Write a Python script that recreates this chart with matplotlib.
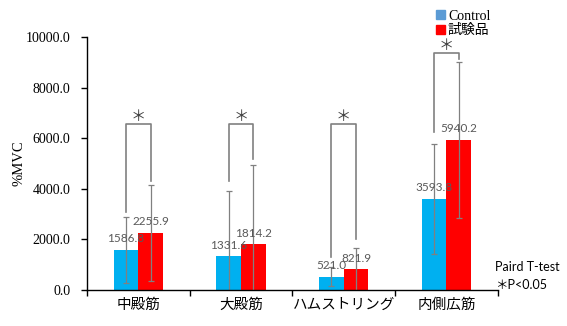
import matplotlib
matplotlib.use('Agg')
import matplotlib.pyplot as plt
from matplotlib.patches import Patch
import numpy as np

# Data
muscles = ['中殿筋', '大殿筋', 'ハムストリング', '内側広筋']
control_mean = [1586.8, 1331.6, 521.0, 3593.8]
test_mean = [2255.9, 1814.2, 821.9, 5940.2]
control_sd = [1300, 2600, 370, 2165]
test_sd = [1900, 3130, 850, 3090]

# significance brackets: top level, left leg bottom, right leg bottom
bracket_top = [6560, 6560, 6560, 9380]
bracket_left = [3100, 4310, 1320, 6260]
bracket_right = [4310, 5180, 2000, 9150]

blue = '#00B0F0'
red = '#FF0000'
gray = '#808080'
label_gray = '#595959'

fig = plt.figure(figsize=(5.67, 3.26), dpi=100)
ax = fig.add_axes([0.1534, 0.1104, 0.7245, 0.776])

x = np.arange(len(muscles))
w = 0.24
ekw = dict(ecolor=gray, elinewidth=0.9, capsize=2.5, capthick=0.9)
ax.bar(x - w / 2, control_mean, w, color=blue, yerr=control_sd, error_kw=ekw, zorder=2)
ax.bar(x + w / 2, test_mean, w, color=red, yerr=test_sd, error_kw=ekw, zorder=2)

# value labels
for xi, v in zip(x - w / 2, control_mean):
    ax.annotate(f'{v:.1f}', (xi, v), xytext=(0, 8), textcoords='offset points',
                ha='center', va='center', fontsize=8.5, color=label_gray, family='Lato', zorder=4)
for xi, v in zip(x + w / 2, test_mean):
    ax.annotate(f'{v:.1f}', (xi, v), xytext=(0, 8), textcoords='offset points',
                ha='center', va='center', fontsize=8.5, color=label_gray, family='Lato', zorder=4)

# brackets with stars
for i in range(len(muscles)):
    xl = x[i] - w / 2
    xr = x[i] + w / 2
    ax.plot([xl, xl, xr, xr], [bracket_left[i], bracket_top[i], bracket_top[i], bracket_right[i]],
            color=gray, lw=1.2, zorder=3, clip_on=False)
    ax.annotate('＊', (x[i], bracket_top[i]), xytext=(0, 5.5), textcoords='offset points',
                ha='center', va='center', fontsize=11, color='#404040',
                family='Noto Sans CJK JP', annotation_clip=False)

ax.set_xlim(-0.5, len(muscles) - 0.5)
ax.set_ylim(0, 10000)
ax.set_yticks(np.arange(0, 10001, 2000))
ax.set_yticklabels([f'{t:.1f}' for t in np.arange(0, 10001, 2000)],
                   family='Liberation Serif', fontsize=10)
ax.set_xticks(x)
ax.set_xticklabels(muscles, family='Noto Sans CJK JP', fontsize=10.5)
ax.set_xticks(np.arange(-0.5, len(muscles)), minor=True)
ax.tick_params(axis='x', which='major', length=0, pad=6)
ax.tick_params(axis='x', which='minor', length=4, direction='out', width=1)
ax.tick_params(axis='y', length=4, direction='out', width=1, pad=8)

for s in ['top', 'right']:
    ax.spines[s].set_visible(False)
for s in ['left', 'bottom']:
    ax.spines[s].set_linewidth(1.0)
    ax.spines[s].set_color('black')

ax.set_ylabel('%MVC', family='Liberation Serif', fontsize=10.5, labelpad=0)

handles = [Patch(color='#5B9BD5', label='Control'), Patch(color=red, label='試験品')]
fig.legend(handles=handles, loc='upper left', bbox_to_anchor=(0.752, 1.0), frameon=False,
           prop={'family': ['Liberation Serif', 'Noto Sans CJK JP'], 'size': 10},
           handlelength=0.65, handleheight=0.65, handletextpad=0.2, labelspacing=0.1,
           borderpad=0.2)

fig.text(0.873, 1 - 267 / 326, 'Paird T-test', family='Lato', fontsize=9, va='center')
fig.text(0.873, 1 - 285 / 326, '＊P<0.05', family=['Lato', 'Noto Sans CJK JP'],
         fontsize=9, va='center')

fig.savefig('out.png', dpi=100)
